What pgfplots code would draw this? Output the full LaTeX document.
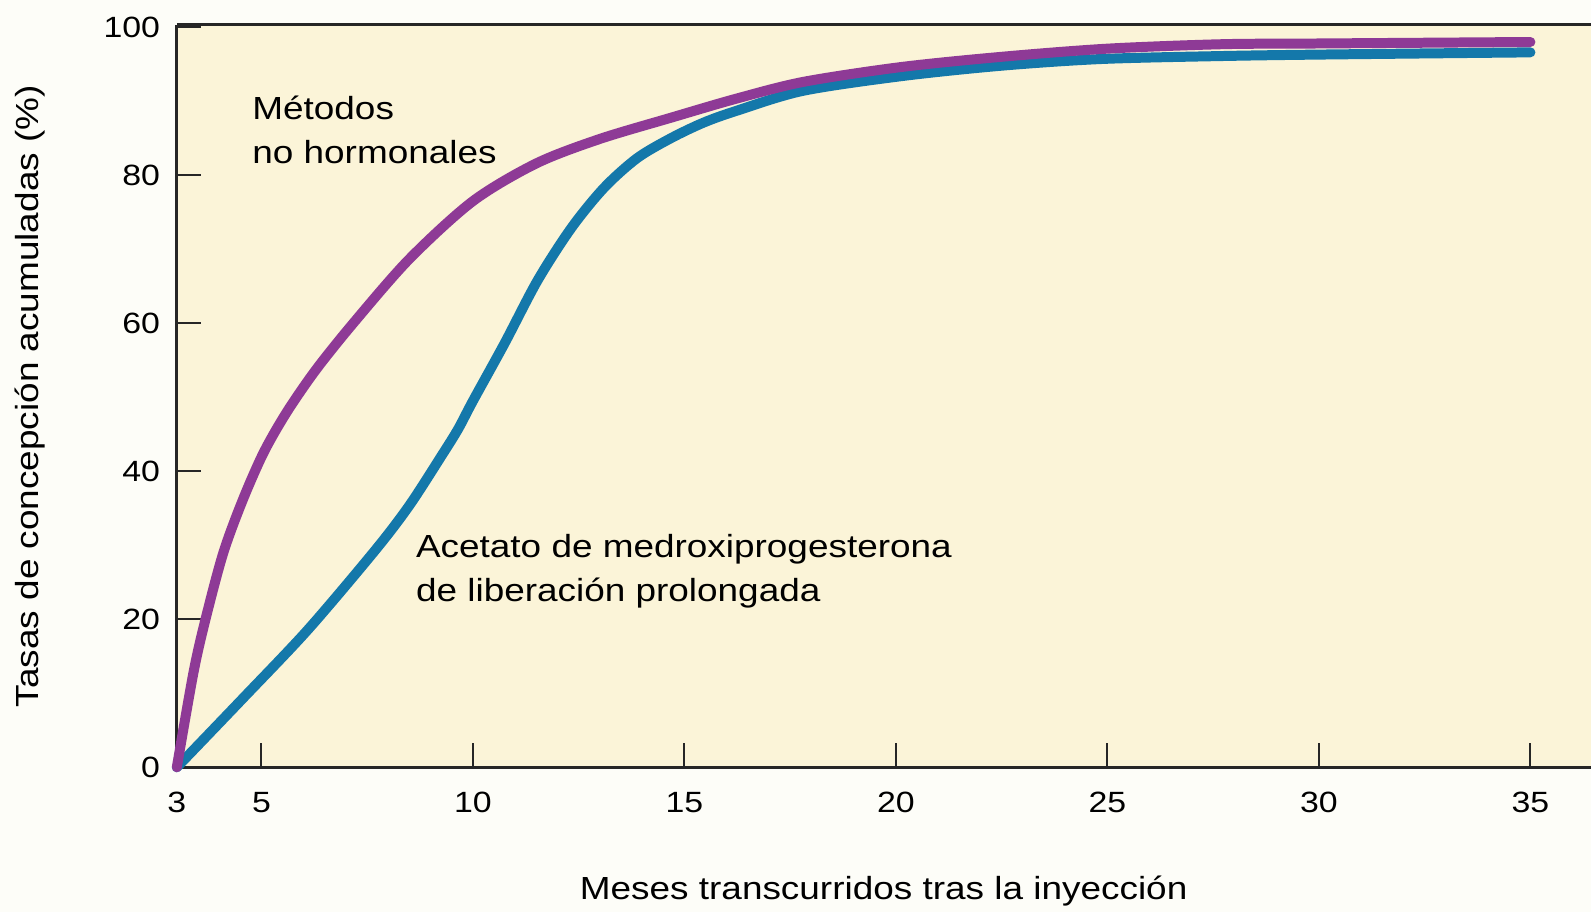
\documentclass[border=0pt]{standalone}
\usepackage{fontspec}
\setmainfont{Liberation Sans}[FakeStretch=1.155]
\usepackage{pgfplots}
\pgfplotsset{compat=1.18}

\definecolor{cream}{HTML}{FBF4D8}
\definecolor{purp}{HTML}{8E3A96}
\definecolor{blueline}{HTML}{1478AA}
\definecolor{paper}{HTML}{FDFDF8}

\begin{document}
\begin{tikzpicture}
\fill[paper] (-53.1pt,-43.5pt) rectangle (424.5pt,230.4pt);
\begin{axis}[
  at={(0pt,0pt)}, anchor=south west,
  scale only axis, width=424.5pt, height=222.9pt,
  xmin=3, xmax=36.42, ymin=0, ymax=100.3,
  axis x line=bottom, axis y line=left,
  axis line style={-, line width=0.9pt, black!85},
  tick align=inside,
  major tick length=7.2pt,
  tick style={line width=0.6pt, black!85},
  xtick={3,5,10,15,20,25,30,35},
  ytick={0,20,40,60,80,100},
  axis background/.style={fill=cream},
  /pgf/number format/assume math mode=true,
  tick label style={font=\fontsize{8.8}{11}\selectfont},
  xticklabel style={yshift=-4pt},
  yticklabel style={xshift=-1.5pt},
  xlabel={Meses transcurridos tras la inyección},
  ylabel={Tasas de concepción acumuladas (\%)},
  every axis x label/.style={at={(axis description cs:0.5,-0.167)},anchor=center,
    inner sep=0pt,font=\fontsize{9.6}{12}\selectfont},
  every axis y label/.style={at={(axis description cs:-0.104,0.5)},rotate=90,anchor=center,
    inner sep=0pt,font=\fontsize{9.6}{12}\selectfont},
  clip=false,
]
% acetato de medroxiprogesterona
\addplot[blueline, line width=3pt, smooth, line cap=round] coordinates {
  (3,0) (4.56,9.3) (6.1,18.6) (7.70,29.4) (8.5,35.4) (9.27,42.2)
  (9.65,45.7) (10.0,49.5) (10.75,57.3) (11.53,65.8) (12.33,72.9)
  (13.10,78.3) (13.88,82.3) (14.68,85.0) (15.45,87.1) (16.23,88.7)
  (17.80,91.4) (20.15,93.4) (22.5,94.8) (24.85,95.7) (27.67,96.1)
  (30,96.3) (35,96.6)
};
% metodos no hormonales
\addplot[purp, line width=3pt, smooth, line cap=round] coordinates {
  (3,0) (3.4,13) (3.7,20.5) (4.1,29) (4.55,36) (5.05,42.5) (5.6,48)
  (6.3,53.8) (7.2,60.2) (8.5,68.7) (10,76.5) (11.5,81.6) (13,84.9)
  (14.7,87.8) (16.2,90.3) (17.8,92.6) (20.1,94.6) (22.5,96.0)
  (25,97.1) (27.7,97.7) (30,97.8) (35,98.0)
};
\draw[line width=0.9pt, black!85] (rel axis cs:0,1) -- (rel axis cs:1,1);
\node[anchor=west, align=left, inner sep=0pt, font=\fontsize{9.6}{13.2}\selectfont]
  at (axis cs:4.77,86.1) {Métodos\\no hormonales};
\node[anchor=west, align=left, inner sep=0pt, font=\fontsize{9.6}{13.2}\selectfont]
  at (axis cs:8.64,26.5) {Acetato de medroxiprogesterona\\de liberación prolongada};
\end{axis}
\end{tikzpicture}
\end{document}
